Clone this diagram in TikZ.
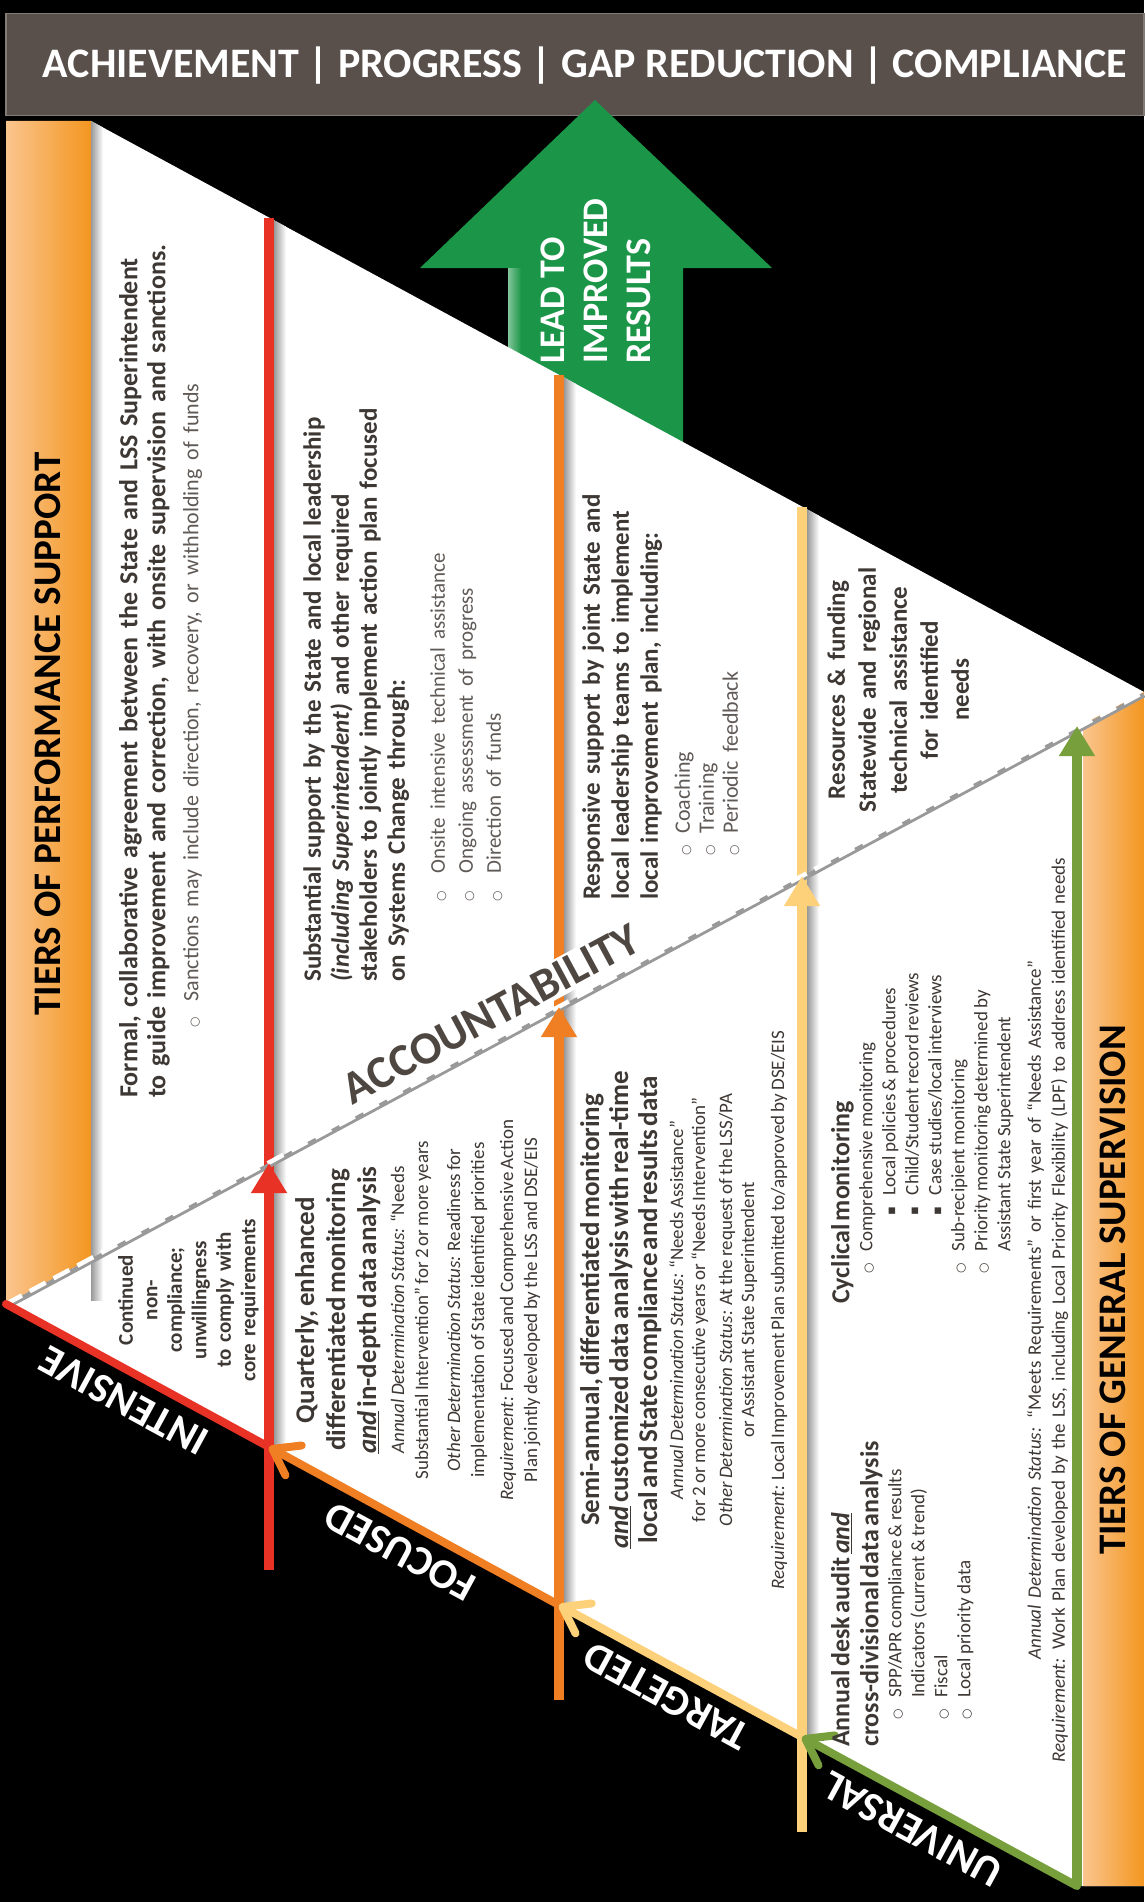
\documentclass[tikz,border=0pt]{standalone}
\usepackage{fontspec}
\setmainfont{Carlito}
\newfontfamily\dejavu{DejaVu Sans}
\usepackage{xcolor}
\definecolor{banner}{RGB}{89,80,76}
\definecolor{ink}{RGB}{62,56,52}
\definecolor{soft}{RGB}{96,90,86}
\definecolor{acc}{RGB}{77,70,65}
\definecolor{barlight}{RGB}{250,197,142}
\definecolor{bardark}{RGB}{243,150,32}
\definecolor{tierred}{RGB}{233,50,38}
\definecolor{tierorange}{RGB}{240,126,34}
\definecolor{tieryellow}{RGB}{253,209,122}
\definecolor{tiergreen}{RGB}{119,159,60}
\definecolor{leadgreen}{RGB}{27,150,72}
\usepackage{tikz}
\usetikzlibrary{arrows.meta, calc}
\newcommand{\bulo}{{\dejavu\fontsize{12}{12}\selectfont ○}}
\newcommand{\bulsq}{{\dejavu\fontsize{13}{13}\selectfont ▪}}
\newcommand{\ibul}[2]{\hspace*{#1}\bulo\hspace{#2}}
\newcommand{\sbul}[1]{\hspace*{#1}\bulsq\hspace{12pt}}
\tikzstyle{tier} = [
    rotate=90,
    inner sep=0pt,
    text=ink,
    execute at begin node=\setlength{\parindent}{0pt},
]
\tikzstyle{leftblock} = [
    tier,
    anchor=north west,
    align=left,
]
\tikzstyle{midblock} = [
    tier,
    anchor=north,
    align=center,
]
\tikzstyle{bartitle} = [
    rotate=90,
    text=black,
    font=\fontsize{39}{39}\selectfont\bfseries,
]
\tikzstyle{tierlabel} = [
    rotate=151.5,
    anchor=south,
    inner sep=11pt,
    text=white,
    font=\fontsize{42}{42}\selectfont\bfseries,
]
\tikzstyle{spine} = [line width=10pt]
\tikzstyle{rim} = [line width=8pt, line cap=round]
\tikzstyle{uptip} = [-{Triangle[length=30pt,width=34pt]}]
\tikzstyle{barb} = [-{Straight Barb[length=24pt,width=34pt,round]}]

\begin{document}
\begin{tikzpicture}[x=1pt, y=-1pt]
    \fill[black] (0,0) rectangle (1144,1902);
    \useasboundingbox (0,0) rectangle (1144,1902);

    % banner
    \node (banner) [fill=banner, draw=banner!75!white, line width=1.5pt,
        minimum width=1138pt, minimum height=102pt, inner sep=0pt, anchor=north west] at (5,13) {};
    \node (goals) [text=white, font=\fontsize{42}{42}\selectfont\bfseries] at (585,66)
        {ACHIEVEMENT | PROGRESS | GAP REDUCTION | COMPLIANCE};

    % big arrow
    \fill[leadgreen] (595,100) -- (772,268) -- (683,268) -- (683,490)
        -- (508,490) -- (508,268) -- (420,268) -- cycle;
    \shade[left color=leadgreen!55!white, right color=leadgreen] (508,268) rectangle (521,490);
    \node (lead) [rotate=90, anchor=north west, align=left, inner sep=0pt, text=white,
        font=\fontsize{36}{43}\selectfont\bfseries] at (541,364) {LEAD TO\\IMPROVED\\RESULTS};

    % frame
    \coordinate (tipL) at (6,1304);
    \coordinate (apexR) at (1144,692);
    \fill[white] (91,121) -- (apexR) -- (1144,1886) -- (1077,1886) -- (tipL) -- (91,1258) -- cycle;
    \shade[left color=barlight, right color=bardark] (6,121) -- (91,121) -- (91,1258) -- (tipL) -- cycle;
    \shade[left color=barlight, right color=bardark] (1083,724) -- (apexR) -- (1144,1886) -- (1083,1886) -- cycle;

    \coordinate (redtop) at (269,218);
    \coordinate (redacc) at (269,1163);
    \coordinate (redfoot) at (269,1447);
    \coordinate (redlow) at (269,1570);
    \coordinate (orangetop) at (559,375);
    \coordinate (orangeacc) at (559,1007);
    \coordinate (orangefoot) at (559,1605);
    \coordinate (orangelow) at (559,1700);
    \coordinate (yellowtop) at (802,507);
    \coordinate (yellowacc) at (802,876);
    \coordinate (yellowfoot) at (802,1737);
    \coordinate (yellowlow) at (802,1832);
    \coordinate (greenacc) at (1077,726);
    \coordinate (greenfoot) at (1077,1886);

    % shadows
    \begin{scope}
        \clip (91,121) -- (apexR) -- (1144,1886) -- (1077,1886) -- (tipL) -- (91,1258) -- cycle;
        \shade[left color=black!40, right color=white] (91,100) rectangle (103,1300);
        \foreach \xx in {269,559,802} {
            \shade[left color=black!40, right color=white] (\xx+5,100) rectangle (\xx+17,1900);
        }
    \end{scope}

    % tiers
    \foreach \tier in {red, orange, yellow} {
        \draw[spine, draw=tier\tier] (\tier low) -- (\tier top);
    }
    \node (account) [rotate=28.3, fill=white, inner sep=3pt, text=acc,
        font=\fontsize{46}{46}\selectfont\bfseries] at (491,1014) {ACCOUNTABILITY};

    % accountability line
    \draw[black!40, line width=5pt] ($(tipL)+(0,3)$) -- ($(apexR)+(0,3)$);
    \draw[white, line width=4.5pt, dash pattern=on 18pt off 9pt] (tipL) -- (apexR);

    \foreach \tier in {red, orange, yellow} {
        \draw[spine, draw=tier\tier, uptip] (\tier low) -- (\tier acc);
    }
    \draw[spine, draw=tiergreen, uptip] (greenfoot) -- (greenacc);

    \draw[rim, tierred] (tipL) -- node (intensive) [tierlabel] {INTENSIVE} (redfoot);
    \draw[rim, tierorange, barb] (orangefoot) -- node (focused) [tierlabel] {FOCUSED} (redfoot);
    \draw[rim, tieryellow, barb] (yellowfoot) -- node (targeted) [tierlabel] {TARGETED} (orangefoot);
    \draw[rim, tiergreen, barb] (greenfoot) -- node (universal) [tierlabel, pos=0.55] {UNIVERSAL} (yellowfoot);

    % side bars
    \node (perfsupport) [bartitle] at (48,734) {TIERS OF PERFORMANCE SUPPORT};
    \node (gensuper) [bartitle] at (1113,1290) {TIERS OF GENERAL SUPERVISION};

    % performance support
    \node (formal) [leftblock, text width=880pt, font=\fontsize{26}{28}\selectfont] at (119,1098) {%
        {\bfseries Formal, collaborative agreement between the State and LSS Superintendent\\
        to guide improvement and correction, with onsite supervision and sanctions.\par}
        \vspace{6pt}
        {\fontsize{22}{27}\selectfont\color{soft}\ibul{70pt}{16pt}Sanctions may include direction, recovery, or withholding of funds\par}};
    \node (substantial) [leftblock, text width=640pt, font=\fontsize{25}{28}\selectfont] at (303,982) {%
        {\bfseries Substantial support by the State and local leadership\\
        \textit{(including Superintendent)} and other required\\
        stakeholders to jointly implement action plan focused\\
        on Systems Change through:\par}
        \vspace{12pt}
        {\fontsize{21}{28}\selectfont\color{soft}\ibul{80pt}{18pt}Onsite intensive technical assistance\\
        \ibul{80pt}{18pt}Ongoing assessment of progress\\
        \ibul{80pt}{18pt}Direction of funds\par}};
    \node (responsive) [leftblock, text width=470pt, font=\fontsize{25}{29}\selectfont] at (582,900) {%
        {\bfseries Responsive support by joint State and\\
        local leadership teams to implement\\
        local improvement plan, including:\par}
        \vspace{8pt}
        {\fontsize{22}{24}\selectfont\color{soft}\ibul{44pt}{12pt}Coaching\\
        \ibul{44pt}{12pt}Training\\
        \ibul{44pt}{12pt}Periodic feedback\par}};
    \node (resources) [midblock, text width=260pt, font=\fontsize{25}{31}\selectfont\bfseries] at (827,690)
        {Resources \& funding\\Statewide and regional\\technical assistance\\for identified\\needs};

    % general supervision
    \node (continued) [midblock, text width=200pt, font=\fontsize{21}{24.5}\selectfont\bfseries] at (118,1300)
        {Continued\\non-\\compliance;\\unwillingness\\to comply with\\core requirements};
    \node (quarterly) [midblock, text width=420pt] at (295,1310) {%
        {\fontsize{27}{31}\selectfont\bfseries Quarterly, enhanced\\
        differentiated monitoring\\
        \underline{\textit{and}} in-depth data analysis\par}
        \vspace{4pt}
        {\fontsize{19}{24}\selectfont\textit{Annual Determination Status:} “Needs\\
        Substantial Intervention” for 2 or more years\par
        \vspace{8pt}
        \textit{Other Determination Status:} Readiness for\\
        implementation of State identified priorities\par
        \vspace{5pt}
        \textit{Requirement:} Focused and Comprehensive Action\\
        Plan jointly developed by the LSS and DSE/EIS\par}};
    \node (semiannual) [midblock, text width=660pt] at (580,1310) {%
        {\fontsize{27}{29}\selectfont\bfseries Semi-annual, differentiated monitoring\\
        \underline{\textit{and}} customized data analysis with real-time\\
        local and State compliance and results data\par}
        \vspace{4pt}
        {\fontsize{19}{22}\selectfont\textit{Annual Determination Status:} “Needs Assistance”\\
        for 2 or more consecutive years or “Needs Intervention”\par
        \vspace{5pt}
        \textit{Other Determination Status:} At the request of the LSS/PA\\
        or Assistant State Superintendent\par
        \vspace{8pt}
        \textit{Requirement:} Local Improvement Plan submitted to/approved by DSE/EIS\par}};
    \node (deskaudit) [leftblock, text width=390pt] at (831,1747) {%
        {\fontsize{26}{29}\selectfont\bfseries Annual desk audit \underline{\textit{and}}\\
        cross-divisional data analysis\par}
        {\fontsize{19}{23}\selectfont\ibul{27pt}{12pt}SPP/APR compliance \& results\\
        \hspace*{49pt}Indicators (current \& trend)\\
        \ibul{27pt}{12pt}Fiscal\\
        \ibul{27pt}{12pt}Local priority data\par}};
    \node (cyclical) [leftblock, text width=410pt] at (831,1304) {%
        {\fontsize{26}{29}\selectfont\bfseries Cyclical monitoring\par}
        {\fontsize{19}{23}\selectfont\ibul{30pt}{12pt}Comprehensive monitoring\\
        \sbul{88pt}Local policies \& procedures\\
        \sbul{88pt}Child/Student record reviews\\
        \sbul{88pt}Case studies/local interviews\\
        \ibul{30pt}{12pt}Sub-recipient monitoring\\
        \ibul{30pt}{12pt}Priority monitoring determined by\\
        \hspace*{52pt}Assistant State Superintendent\par}};
    \node (workplan) [midblock, text width=1080pt, font=\fontsize{19}{24}\selectfont] at (1027,1310)
        {\textit{Annual Determination Status:} “Meets Requirements” or first year of “Needs Assistance”\\
        \textit{Requirement:} Work Plan developed by the LSS, including Local Priority Flexibility (LPF) to address identified needs};

\end{tikzpicture}
\end{document}
